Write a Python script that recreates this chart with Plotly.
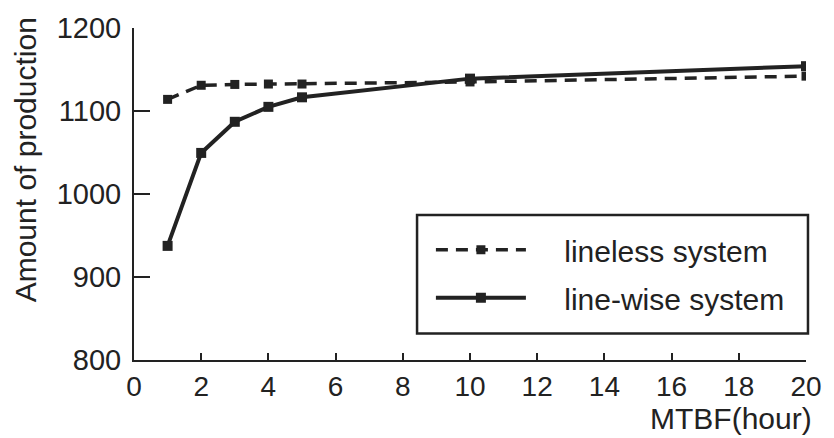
import plotly.graph_objects as go

# MTBF (hour)
mtbf = [1, 2, 3, 4, 5, 10, 20]
lineless = [1114, 1131, 1132, 1132.5, 1132.5, 1135, 1142]
linewise = [937.5, 1049.5, 1087, 1105, 1116.5, 1139, 1154]

series_names = ["lineless system", "line-wise system"]
x_ticks = list(range(0, 21, 2))
y_ticks = [800, 900, 1000, 1100, 1200]

INK = "#222222"
FONT = "Liberation Sans, Arial, Helvetica, sans-serif"
NB = "\u00a0"

# plot-area pixel geometry (used only for placing the legend frame / titles)
L, R, T, B = 134, 21, 21, 78
W, H = 834, 438
PW, PH = W - L - R, H - T - B


def px_x(px):
    return (px - L) / PW


def px_y(py):
    return (H - B - py) / PH


fig = go.Figure()
fig.add_trace(go.Scatter(
    x=mtbf, y=lineless, name=NB * 4 + series_names[0] + NB * 3, mode="lines+markers",
    line=dict(color=INK, width=3.5, dash="12px,8px"),
    marker=dict(symbol="square", size=9, color=INK),
    legendgroup="a",
))
fig.add_trace(go.Scatter(
    x=mtbf, y=linewise, name=NB * 4 + series_names[1] + NB * 3, mode="lines+markers",
    line=dict(color=INK, width=4),
    marker=dict(symbol="square", size=10, color=INK),
    legendgroup="b",
))

fig.update_layout(
    width=W, height=H,
    margin=dict(l=L, r=R, t=T, b=B),
    paper_bgcolor="white", plot_bgcolor="white",
    font=dict(family=FONT, size=28, color=INK),
    showlegend=True,
    legend=dict(
        x=px_x(434), y=px_y(221), xanchor="left", yanchor="top",
        borderwidth=0, bgcolor="rgba(0,0,0,0)",
        font=dict(family=FONT, size=30, color=INK),
        itemwidth=90, tracegroupgap=6,
    ),
    shapes=[
        dict(type="rect", xref="paper", yref="paper",
             x0=px_x(420), x1=px_x(815), y0=px_y(333), y1=px_y(212),
             line=dict(color=INK, width=2.5), fillcolor="rgba(0,0,0,0)", layer="below"),
    ],
    xaxis=dict(
        range=[0, 20], tickvals=x_ticks, ticktext=[str(v) for v in x_ticks],
        showline=True, linecolor=INK, linewidth=2,
        ticks="inside", ticklen=7, tickwidth=2, tickcolor=INK,
        showgrid=False, zeroline=False,
        tickfont=dict(family=FONT, size=28, color=INK),
    ),
    yaxis=dict(
        range=[800, 1200], tickvals=y_ticks, ticktext=[str(v) for v in y_ticks],
        showline=True, linecolor=INK, linewidth=2,
        ticks="inside", ticklen=16, tickwidth=2, tickcolor=INK,
        showgrid=False, zeroline=False, ticklabelstandoff=5,
        tickfont=dict(family=FONT, size=29, color=INK),
    ),
    annotations=[
        dict(text="MTBF(hour)", xref="paper", yref="paper",
             x=px_x(821), y=px_y(420), showarrow=False,
             xanchor="right", yanchor="middle",
             font=dict(family=FONT, size=30, color=INK)),
        dict(text="Amount of production", xref="paper", yref="paper",
             x=px_x(24), y=px_y(156), textangle=-90, showarrow=False,
             xanchor="center", yanchor="middle",
             font=dict(family=FONT, size=30, color=INK)),
    ],
)

fig.write_html("out.html")
